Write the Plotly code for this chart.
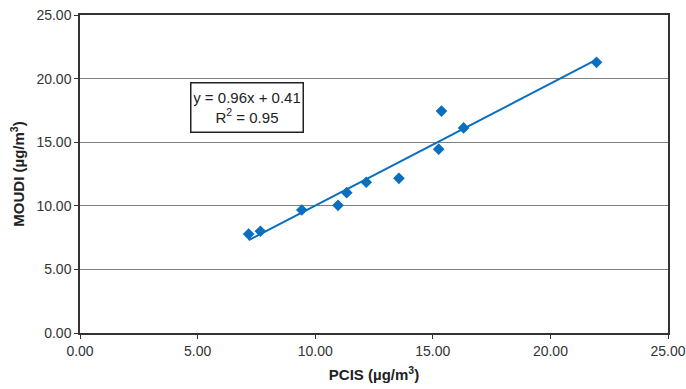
import plotly.graph_objects as go

pcis = [7.17, 7.67, 9.43, 10.97, 11.34, 12.17, 13.56, 15.25, 15.37, 16.31, 21.96]
moudi = [7.78, 8.0, 9.67, 10.04, 11.03, 11.85, 12.16, 14.45, 17.45, 16.12, 21.28]
slope, intercept = 0.96, 0.41
fit_x = [min(pcis), max(pcis)]
fit_y = [slope * v + intercept for v in fit_x]
tickvals = [0, 5, 10, 15, 20, 25]
ticktext = ["0.00", "5.00", "10.00", "15.00", "20.00", "25.00"]

blue = "#0A6FBF"
font_fam = "Liberation Sans, Arial, sans-serif"

fig = go.Figure()
fig.add_trace(go.Scatter(x=fit_x, y=fit_y, mode="lines",
                         line=dict(color=blue, width=2), hoverinfo="skip"))
fig.add_trace(go.Scatter(x=pcis, y=moudi, mode="markers",
                         marker=dict(symbol="diamond", size=9, color=blue)))

axis_common = dict(range=[0, 25], tickvals=tickvals, ticktext=ticktext,
                   showline=True, linecolor="#333333", linewidth=1.5, mirror=True,
                   ticks="outside", ticklen=4, tickcolor="#333333",
                   tickfont=dict(family=font_fam, size=14, color="#333333"),
                   ticklabeloverflow="allow", automargin=False,
                   zeroline=False)

fig.update_layout(
    width=686, height=389,
    margin=dict(l=80, r=18, t=15, b=56),
    paper_bgcolor="white", plot_bgcolor="white",
    showlegend=False,
    xaxis=dict(**axis_common, showgrid=False,
               title=dict(text="<b>PCIS (µg/m<sup>3</sup>)</b>", standoff=12,
                          font=dict(family=font_fam, size=15, color="#222222"))),
    yaxis=dict(**axis_common, showgrid=True, gridcolor="#808080", gridwidth=1,
               title=dict(text="<b>MOUDI (µg/m<sup>3</sup>)</b>", standoff=8,
                          font=dict(family=font_fam, size=15, color="#222222"))),
    annotations=[dict(xref="x", yref="y", x=7.1, y=17.7,
                      text="y = 0.96x + 0.41<br>R<sup>2</sup> = 0.95",
                      showarrow=False, align="center",
                      width=107, height=44,
                      font=dict(family=font_fam, size=15, color="#222222"),
                      bordercolor="#222222", borderwidth=1.5, borderpad=2,
                      bgcolor="white")],
)

fig.write_html("out.html")
